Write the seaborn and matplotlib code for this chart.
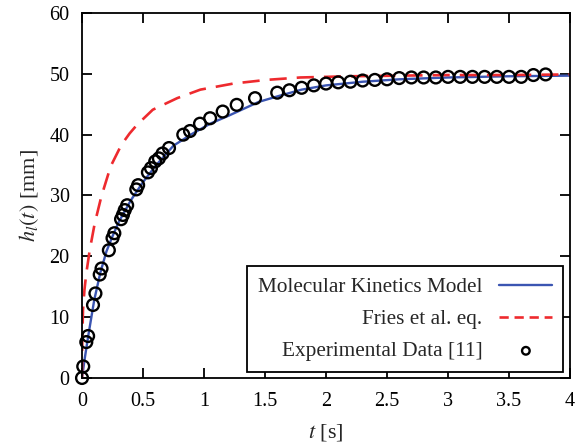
import numpy as np
import pandas as pd
import matplotlib
matplotlib.use("Agg")
import matplotlib.pyplot as plt
import seaborn as sns
from matplotlib.ticker import FuncFormatter

# ---- data ----
t_mk = [0, 0.02, 0.05, 0.1, 0.15, 0.2, 0.25, 0.3, 0.4, 0.5, 0.6, 0.75, 0.9, 1.05, 1.2,
        1.45, 1.62, 1.8, 2.0, 2.3, 2.6, 3.0, 3.5, 4.0]
h_mk = [0, 2.9, 6.8, 12.8, 17.3, 20.8, 23.3, 25.6, 29.2, 32.2, 34.8, 38.2, 40.1, 41.8, 43.1,
        45.4, 46.4, 47.4, 48.1, 48.7, 49.1, 49.4, 49.6, 49.7]

t_fr = [0, 0.002, 0.008, 0.02, 0.035, 0.063, 0.104, 0.158, 0.235, 0.322, 0.39, 0.45, 0.58,
        0.78, 0.97, 1.24, 1.51, 1.79, 2.2, 2.6, 3.0, 3.5, 4.0]
h_fr = [0, 6.0, 11.2, 14.5, 17.2, 21.0, 25.4, 29.8, 34.8, 38.3, 40.2, 41.6, 44.1,
        46.0, 47.4, 48.4, 49.0, 49.4, 49.6, 49.7, 49.8, 49.8, 49.9]

t_exp = [0, 0.01, 0.035, 0.05, 0.09, 0.11, 0.145, 0.16, 0.22, 0.25, 0.265, 0.32, 0.335,
         0.35, 0.37, 0.445, 0.46, 0.54, 0.565, 0.6, 0.63, 0.66, 0.713, 0.83, 0.885, 0.967,
         1.05, 1.153, 1.268, 1.418, 1.6, 1.7, 1.8, 1.9, 2.0, 2.1, 2.2, 2.3, 2.4, 2.5, 2.6,
         2.7, 2.8, 2.9, 3.0, 3.1, 3.2, 3.3, 3.4, 3.5, 3.6, 3.7, 3.8]
h_exp = [0, 1.9, 5.9, 6.9, 12.0, 13.9, 17.0, 18.0, 21.0, 23.0, 23.8, 26.1, 26.8,
         27.6, 28.4, 31.0, 31.7, 33.8, 34.5, 35.6, 36.1, 36.9, 37.8, 40.0, 40.6, 41.8,
         42.7, 43.8, 44.9, 46.0, 46.9, 47.3, 47.7, 48.1, 48.4, 48.6, 48.7, 48.9, 49.0, 49.1, 49.3,
         49.4, 49.4, 49.4, 49.5, 49.5, 49.5, 49.5, 49.5, 49.5, 49.5, 49.8, 49.9]

x_ticks = [0, 0.5, 1, 1.5, 2, 2.5, 3, 3.5, 4]
y_ticks = [0, 10, 20, 30, 40, 50, 60]

# ---- style ----
sns.set_style("ticks")
plt.rcParams['font.family'] = ['Liberation Serif', 'DejaVu Serif']
plt.rcParams['mathtext.fontset'] = 'stix'

fig = plt.figure(figsize=(5.78, 4.45), dpi=100)
ax = fig.add_axes([0.1419, 0.1506, 0.8443, 0.8202])

df_mk = pd.DataFrame({"t": t_mk, "h": h_mk})
df_fr = pd.DataFrame({"t": t_fr, "h": h_fr})
df_exp = pd.DataFrame({"t": t_exp, "h": h_exp})

sns.lineplot(data=df_mk, x="t", y="h", ax=ax, color="#3b55b2", lw=1.7,
             label="Molecular Kinetics Model", sort=False, zorder=2)
sns.lineplot(data=df_fr, x="t", y="h", ax=ax, color="#ee2a2e", lw=1.9,
             label="Fries et al. eq.", sort=False, zorder=2)
ax.lines[-1].set_dashes([6.5, 3.8])
sns.scatterplot(data=df_exp, x="t", y="h", ax=ax, s=72, marker="o",
                facecolor="none", edgecolor="black", linewidth=1.7,
                label="Experimental Data [11]", zorder=3, clip_on=False)

ax.set_xlim(0, 4)
ax.set_ylim(0, 60)
ax.set_xticks(x_ticks)
ax.set_yticks(y_ticks)
ax.xaxis.set_major_formatter(FuncFormatter(lambda v, p: f"{v:g}"))
ax.yaxis.set_major_formatter(FuncFormatter(lambda v, p: f"{v:g}"))
ax.tick_params(direction="in", length=7, width=1.3, top=True, right=True,
               labelsize=14.5, colors="black")
ax.tick_params(axis="x", pad=10)
ax.tick_params(axis="y", pad=9)
for s in ax.spines.values():
    s.set_linewidth(1.3)
    s.set_color("black")

ax.set_xlabel("$t$ [s]", fontsize=16, labelpad=8)
ax.set_ylabel("$h_l(t)$ [mm]", fontsize=16, labelpad=6)

leg = ax.legend(loc="lower right", markerfirst=False, frameon=True, fancybox=False,
                edgecolor="black", framealpha=1, fontsize=15.3, handlelength=2.5,
                borderpad=0.5, labelspacing=0.58, handletextpad=0.8,
                borderaxespad=0, bbox_to_anchor=(0.9857, 0.0164))
leg.get_frame().set_linewidth(1.3)
leg.legend_handles[2].set_sizes([30])
leg.legend_handles[1].set_dashes([3.5, 2.2])
for txt in leg.get_texts():
    txt.set_ha("right")
leg._legend_box.align = "right"

fig.savefig("out.png", dpi=100)
